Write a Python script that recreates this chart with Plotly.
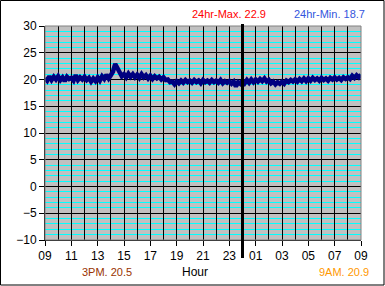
import plotly.graph_objects as go

# Hours since 09:00 start (10-minute steps); 24 = midnight
start_hour = 9
step_min = 10
temps = [
    # 09
    20.3, 19.8, 20.6, 19.9, 20.5, 20.0,
    # 10
    20.6, 19.9, 20.4, 19.7, 20.5, 20.1,
    # 11
    20.3, 19.8, 20.8, 19.9, 20.4, 20.0,
    # 12
    20.5, 19.9, 20.3, 19.6, 20.2, 19.7,
    # 13
    20.4, 19.8, 20.6, 20.1, 20.9, 20.2,
    # 14
    20.8, 21.5, 22.9, 22.0, 21.1, 20.6,
    # 15
    21.0, 20.4, 21.1, 20.5, 21.0, 20.4,
    # 16
    20.9, 20.3, 21.0, 20.4, 20.8, 20.2,
    # 17
    20.7, 20.1, 20.6, 20.2, 20.5, 20.0,
    # 18
    20.4, 19.9, 20.0, 19.5, 19.6, 19.1,
    # 19
    19.7, 19.3, 19.8, 19.4, 19.9, 19.5,
    # 20
    19.8, 19.4, 19.9, 19.5, 19.8, 19.3,
    # 21
    19.9, 19.5, 19.8, 19.4, 19.9, 19.5,
    # 22
    19.8, 19.4, 19.9, 19.3, 19.7, 19.4,
    # 23
    19.7, 19.2, 19.6, 18.7, 19.5, 19.2,
    # 00
    19.8, 19.3, 19.9, 19.4, 20.0, 19.5,
    # 01
    20.0, 19.6, 20.1, 19.7, 20.2, 19.6,
    # 02
    19.9, 19.3, 19.6, 19.1, 19.5, 19.2,
    # 03
    19.6, 19.2, 19.8, 19.5, 19.9, 19.6,
    # 04
    20.0, 19.6, 20.1, 19.7, 20.2, 19.7,
    # 05
    20.2, 19.8, 20.3, 19.9, 20.2, 19.8,
    # 06
    20.3, 19.9, 20.2, 19.8, 20.3, 20.0,
    # 07
    20.4, 20.0, 20.3, 19.9, 20.4, 20.1,
    # 08
    20.4, 20.1, 20.7, 20.3, 20.8, 20.4,
    # 09
    20.9,
]
hours = [start_hour + i * step_min / 60 for i in range(len(temps))]

tick_vals = [9, 11, 13, 15, 17, 19, 21, 23, 25, 27, 29, 31, 33]
tick_text = ["09", "11", "13", "15", "17", "19", "21", "23", "01", "03", "05", "07", "09"]
midnight = 24

max_label = "24hr-Max. 22.9"
min_label = "24hr-Min. 18.7"
pm_label = "3PM. 20.5"
am_label = "9AM. 20.9"

W, H = 385, 286
L, R, T, B = 45, 24, 26, 46
pw, ph = W - L - R, H - T - B

def px(x):
    return (x - L) / pw

def py(y):
    return (H - B - y) / ph

font = "Liberation Sans, Arial, sans-serif"

fig = go.Figure()
# invisible trace on main axes so that subplot exists
fig.add_trace(go.Scatter(x=[hours[0]], y=[temps[0]], mode="lines",
                         line=dict(color="rgba(0,0,0,0)"), hoverinfo="skip",
                         showlegend=False, xaxis="x", yaxis="y"))
fig.add_trace(go.Scatter(x=hours, y=temps, mode="lines",
                         line=dict(color="#000080", width=4.5),
                         hoverinfo="skip", showlegend=False, xaxis="x2", yaxis="y"))

fig.update_layout(
    width=W, height=H,
    margin=dict(l=L, r=R, t=T, b=B),
    paper_bgcolor="white",
    plot_bgcolor="#c0c0c0",
    font=dict(family=font, size=12, color="black"),
    xaxis=dict(range=[9, 33], tickvals=tick_vals, ticktext=tick_text,
               showgrid=False,
               ticks="outside", ticklen=5, tickcolor="black",
               showline=True, linecolor="black", linewidth=1,
               zeroline=False, tickfont=dict(size=12)),
    xaxis2=dict(range=[9, 33], overlaying="x", side="bottom", tick0=9, dtick=1,
                showgrid=True, gridcolor="black", gridwidth=1,
                showticklabels=False, ticks="", showline=False, zeroline=False),
    yaxis=dict(range=[-10, 30], tick0=-10, dtick=5,
               showgrid=True, gridcolor="black", gridwidth=1,
               minor=dict(dtick=1, showgrid=True, gridcolor="#00ffff", gridwidth=1),
               ticks="outside", ticklen=5, tickcolor="black",
               showline=True, linecolor="black", linewidth=1,
               zeroline=False, tickfont=dict(size=12)),
    shapes=[
        dict(type="rect", xref="paper", yref="paper", x0=0, x1=1, y0=0, y1=1,
             line=dict(color="#808080", width=1), layer="above"),
        dict(type="line", xref="x", yref="paper", x0=midnight, x1=midnight,
             y0=py(258), y1=py(24), line=dict(color="black", width=3), layer="above"),
        dict(type="rect", xref="paper", yref="paper", x0=px(0.5), x1=px(384),
             y0=py(285), y1=py(0.5), line=dict(color="black", width=1)),
    ],
    annotations=[
        dict(text=max_label, xref="paper", yref="paper", x=px(228.5), y=py(14),
             showarrow=False, font=dict(color="#ff0000", size=11), xanchor="center", yanchor="middle"),
        dict(text=min_label, xref="paper", yref="paper", x=px(329), y=py(14),
             showarrow=False, font=dict(color="#3355dd", size=11), xanchor="center", yanchor="middle"),
        dict(text=pm_label, xref="paper", yref="paper", x=px(107), y=py(272),
             showarrow=False, font=dict(color="#993300", size=11), xanchor="center", yanchor="middle"),
        dict(text="Hour", xref="paper", yref="paper", x=px(195), y=py(272),
             showarrow=False, font=dict(color="black", size=12), xanchor="center", yanchor="middle"),
        dict(text=am_label, xref="paper", yref="paper", x=px(344), y=py(272),
             showarrow=False, font=dict(color="#ff9900", size=11), xanchor="center", yanchor="middle"),
    ],
)

fig.write_html("out.html")
